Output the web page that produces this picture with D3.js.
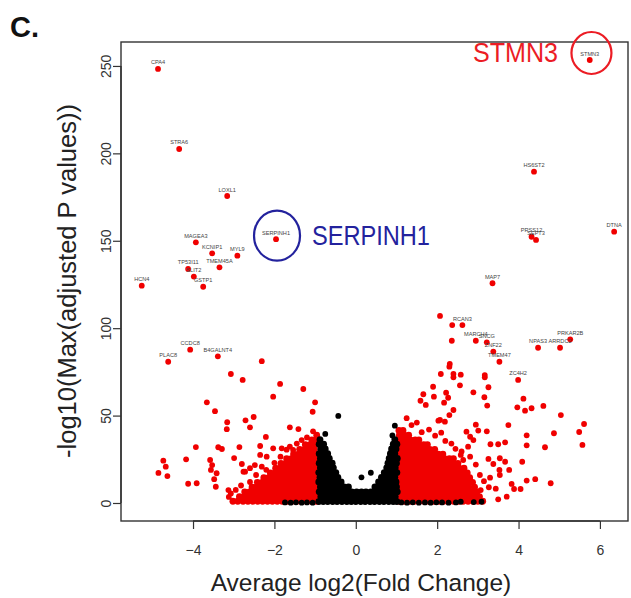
<!DOCTYPE html>
<html><head><meta charset="utf-8">
<script src="https://cdn.jsdelivr.net/npm/d3@7"></script>
<style>body{margin:0;background:#fff}svg text{font-family:"Liberation Sans",Arial,sans-serif}</style>
</head><body><svg id="c" width="631" height="598"></svg>
<script>
// ---------- data ----------
const xTicks = [-4, -2, 0, 2, 4, 6];
const yTicks = [0, 50, 100, 150, 200, 250];

const geneNames = ["CPA4","STRA6","LOXL1","MAGEA3","KCNIP1","MYL9","TMEM45A","TP53I11","SLIT2","GSTP1","HCN4","SERPINH1","CCDC8","B4GALNT4","PLAC8",
  "STMN3","HS6ST2","PRSS12","SEPT3","DTNA","MAP7","RCAN3","MARCH4","SNCG","ZNF22","TMEM47","ZC4H2","NPAS3","ARRDC2","PRKAR2B"];
const geneX = [-4.86,-4.34,-3.16,-3.93,-3.53,-2.91,-3.35,-4.12,-3.98,-3.75,-5.26,-1.96,-4.07,-3.39,-4.61,
  5.75,4.38,4.32,4.43,6.35,3.36,2.62,2.95,3.22,3.38,3.53,3.99,4.48,5.02,5.27];
const geneY = [248.3,202.5,175.6,149.1,142.8,141.5,134.8,133.9,129.5,123.7,124.3,150.9,87.7,83.9,80.8,
  253.4,189.5,152.3,150.5,155.2,125.7,101.8,92.8,91.9,86.6,80.8,70.4,88.8,88.8,93.6];

const highlightGenes = ["STMN3", "SERPINH1"];

// dense clouds: [y, [x values]]
const blackRows = [
  [0.8, [-0.91,-0.8,-0.69,-0.57,-0.46,-0.34,-0.22,-0.11,0.0,0.12,0.23,0.35,0.46,0.58,0.69,0.81,0.92,1.01]],
  [3.6, [-0.86,-0.74,-0.63,-0.51,-0.4,-0.28,-0.17,-0.05,0.06,0.17,0.29,0.4,0.52,0.63,0.75,0.86,0.97]],
  [6.4, [-0.9,-0.79,-0.67,-0.56,-0.44,-0.33,-0.21,-0.1,0.02,0.14,0.25,0.37,0.48,0.6,0.71,0.83,0.94,1.02]],
  [9.2, [-0.87,-0.75,-0.64,-0.52,-0.41,-0.29,-0.18,0.47,0.57,0.68,0.79,0.9,1.0]],
  [12.0, [-0.91,-0.8,-0.68,-0.57,-0.45,-0.36,0.56,0.66,0.77,0.88,0.99]],
  [14.7, [-0.88,-0.77,-0.65,-0.54,-0.44,0.63,0.74,0.85,0.96]],
  [17.4, [-0.91,-0.8,-0.69,-0.58,-0.49,0.7,0.8,0.91,1.01]],
  [20.1, [-0.87,-0.76,-0.65,-0.55,0.76,0.87,0.97]],
  [22.8, [-0.9,-0.79,-0.68,-0.58,0.79,0.9,1.0]],
  [25.5, [-0.87,-0.76,-0.65,0.82,0.93,1.02]],
  [28.2, [-0.9,-0.79,-0.69,0.85,0.96]],
  [30.9, [-0.86,-0.75,0.88,0.99]],
  [33.6, [-0.9,-0.79,0.92,1.01]],
  [36.3, [-0.88,0.96]]
];
const leftRedRows = [
  [1.0, [-3.02,-2.9,-2.77,-2.65,-2.53,-2.41,-2.29,-2.17,-2.05,-1.93,-1.81,-1.69,-1.57,-1.45,-1.33,-1.21,-1.09,-0.97]],
  [3.7, [-2.86,-2.74,-2.62,-2.5,-2.38,-2.26,-2.14,-2.02,-1.9,-1.78,-1.66,-1.54,-1.42,-1.3,-1.18,-1.06,-0.96]],
  [6.4, [-2.73,-2.61,-2.49,-2.37,-2.25,-2.13,-2.01,-1.89,-1.77,-1.65,-1.53,-1.41,-1.29,-1.17,-1.05,-0.95]],
  [9.1, [-2.55,-2.45,-2.33,-2.21,-2.09,-1.97,-1.85,-1.73,-1.61,-1.49,-1.37,-1.25,-1.13,-1.01]],
  [11.8, [-2.42,-2.3,-2.18,-2.06,-1.94,-1.82,-1.7,-1.58,-1.46,-1.34,-1.22,-1.1,-0.98]],
  [14.5, [-2.26,-2.14,-2.02,-1.9,-1.78,-1.66,-1.54,-1.42,-1.3,-1.18,-1.06,-0.96]],
  [17.2, [-2.1,-1.98,-1.86,-1.74,-1.62,-1.5,-1.38,-1.26,-1.14,-1.02]],
  [19.9, [-1.97,-1.85,-1.73,-1.61,-1.49,-1.37,-1.25,-1.13,-1.0]],
  [22.6, [-1.84,-1.72,-1.6,-1.48,-1.36,-1.24,-1.12,-0.99]],
  [25.3, [-1.7,-1.58,-1.46,-1.34,-1.22,-1.1,-0.98]],
  [28.0, [-1.53,-1.41,-1.29,-1.17,-1.05,-0.96]],
  [30.7, [-1.38,-1.26,-1.14,-1.02]],
  [33.4, [-1.24,-1.12,-0.99]],
  [36.1, [-1.08,-0.97]],
  [38.8, [-0.96]]
];
const rightRedRows = [
  [1.0, [1.08,1.2,1.32,1.44,1.56,1.68,1.8,1.92,2.04,2.16,2.28,2.4,2.52,2.64,2.76,2.88,3.0,3.12]],
  [3.7, [1.12,1.24,1.36,1.48,1.6,1.72,1.84,1.96,2.08,2.2,2.32,2.44,2.56,2.68,2.8,2.92,3.04]],
  [6.4, [1.06,1.18,1.3,1.42,1.54,1.66,1.78,1.9,2.02,2.14,2.26,2.38,2.5,2.62,2.74,2.86,2.98]],
  [9.1, [1.1,1.22,1.34,1.46,1.58,1.7,1.82,1.94,2.06,2.18,2.3,2.42,2.54,2.66,2.78,2.92]],
  [11.8, [1.07,1.19,1.31,1.43,1.55,1.67,1.79,1.91,2.03,2.15,2.27,2.39,2.51,2.63,2.75,2.87]],
  [14.5, [1.11,1.23,1.35,1.47,1.59,1.71,1.83,1.95,2.07,2.19,2.31,2.43,2.55,2.67,2.8]],
  [17.2, [1.06,1.18,1.3,1.42,1.54,1.66,1.78,1.9,2.02,2.14,2.26,2.38,2.5,2.62,2.74]],
  [19.9, [1.1,1.22,1.34,1.46,1.58,1.7,1.82,1.94,2.06,2.18,2.3,2.42,2.54,2.66]],
  [22.6, [1.07,1.19,1.31,1.43,1.55,1.67,1.79,1.91,2.03,2.15,2.27,2.39,2.51]],
  [25.3, [1.1,1.22,1.34,1.46,1.58,1.7,1.82,1.94,2.06,2.18,2.3,2.4]],
  [28.0, [1.07,1.19,1.31,1.43,1.55,1.67,1.79,1.91,2.03,2.14]],
  [30.7, [1.1,1.22,1.34,1.46,1.58,1.7,1.82,1.94]],
  [33.4, [1.07,1.19,1.31,1.43,1.55,1.67,1.76]],
  [36.1, [1.1,1.22,1.34,1.46,1.55]],
  [38.8, [1.07,1.19,1.3]],
  [41.5, [1.06,1.16]]
];

// scattered significant genes [x, y]
const redScatter = [
  [-2.31,81.1],[-3.07,73.8],[-2.78,70.4],[-1.86,68.1],[-1.29,65.2],[-2.03,60.8],[-1.0,57.6],[-3.66,57.6],[-3.46,52.5],[-1.06,52.2],
  [-3.16,46.2],[-2.71,47.3],[-2.51,49.2],[-3.17,42.2],[-2.6,43.3],[-1.62,43.3],[-1.41,42.3],[-2.21,37.8],[-3.93,32],[-3.38,31.9],
  [-3.29,30.9],[-2.86,32],[-2.35,32.6],[-4.73,24.2],[-4.67,20.8],[-4.17,25],[-4.85,17.2],[-4.63,15.4],[-4.12,11],[-3.91,11.3],
  [-3.58,24.6],[-3.53,21.7],[-3.56,18.9],[-2.99,25.7],[-2.8,22.3],[-2.76,17.9],[-2.8,1.7],[-3.13,7.4],[-3.07,5.5],[-3.42,17],
  [-3.48,13.6],[-3.44,9.3],[-2.35,27.5],[-2.19,26.5],[-2.03,31.3],[-1.82,31.3],[-1.62,32.2],[-1.54,30.3],[-1.33,36],[-1.21,31.3],
  [-1.08,30.3],[-2.72,17.9],[-2.6,19.9],[-2.48,21.7],[-2.31,20.8],[-2.6,12],[-2.82,10],[-2.95,7.5],[-3.12,3.5],[-2.45,16],
  [-2.2,19],[-2.0,23],[-1.85,26.5],[-1.7,30.5],[-1.45,34],[-1.2,37.5],[-1.05,41],
  [2.07,107],[2.37,101.8],[2.36,92.8],[2.31,79.5],[2.3,78],[2.09,73.8],[2.4,73.8],[2.4,71.9],[2.58,73.4],[3.17,73.2],
  [3.17,71.9],[1.9,66.5],[2.56,67.3],[3.26,66.2],[1.66,62.2],[1.59,58.5],[1.72,56.1],[1.92,60.8],[2.22,63.1],[2.27,60.2],
  [2.17,57.4],[2.89,63.3],[3.16,60.5],[3.23,55.7],[4.12,59.7],[3.97,54.7],[4.16,52.8],[4.32,54.2],[4.61,55.5],[5.04,50.3],
  [5.61,45.2],[5.49,40.6],[5.57,33.2],[4.87,39.9],[4.65,31.9],[4.2,38.7],[4.2,33],[3.75,44.6],[2.95,44.8],[3.01,41.4],
  [3.22,41],[3.31,33.6],[3.5,33.6],[3.67,34.7],[4.09,23.6],[3.54,25.6],[3.67,23.6],[3.26,25.2],[3.38,22.3],[3.53,18.9],
  [3.77,18.9],[3.54,16],[4.2,12.8],[4.41,13.6],[4.79,11.3],[3.83,10.9],[3.89,8],[4.05,8],[3.27,9],[3.44,8.2],
  [3.07,7.4],[3.5,2.1],[3.71,3.6],[1.37,44.6],[2.4,53.2],[2.3,50.3],[2.07,47.5],[2.19,46.5],[2.03,47.1],[2.72,40.8],
  [2.81,37.9],[2.89,36],[2.76,32.2],[2.58,27.5],[2.64,24.6],[2.81,26.5],[1.5,46],[1.25,48.5],[1.8,42],[1.95,38.5],
  [2.2,35.5],[2.45,31],[2.6,29.5],[2.95,22],[3.05,16],[3.15,12.5],[3.3,14.5],[1.62,40.5],[2.35,34],[2.1,40.2]
];
// scattered non-significant genes [x, y]
const blackScatter = [
  [-0.43,49.8],[0.96,44.2],[0.9,38.6],[0.14,14.7],[0.37,17.3],[-0.75,39.5],
  [-1.74,0.3],[-1.6,0.2],[-1.47,0.4],[-1.33,0.2],[-1.2,0.3],[-1.06,0.2],[1.12,0.3],[1.26,0.2],[1.4,0.4],[1.55,0.2],
  [1.7,0.3],[1.84,0.2],[1.98,0.4],[2.12,0.3],[2.28,0.2],[2.46,0.3],[2.58,0.7],[2.9,0.5],[3.09,0.7]
];

// ---------- drawing ----------
const L = 121, R = 628, T = 42, B = 521;
const svg = d3.select("#c");
const x = d3.scaleLinear().domain([-5.77, 6.69]).range([L, R]);
const y = d3.scaleLinear().domain([-10.3, 263.7]).range([B, T]);
const RED = "#f00000", PR = 2.9, CLOUD_R = 3.4;

const rowsToPts = rows => rows.flatMap(([yy, xs]) => xs.map(xx => [xx, yy]));
const plot = svg.append("g");
function dots(pts, color, r) {
  plot.append("g").selectAll("circle").data(pts).join("circle")
    .attr("cx", d => x(d[0])).attr("cy", d => y(d[1])).attr("r", r).attr("fill", color);
}
dots(rowsToPts(leftRedRows), RED, CLOUD_R);
dots(rowsToPts(rightRedRows), RED, CLOUD_R);
dots(redScatter, RED, PR);
dots(rowsToPts(blackRows), "#000", CLOUD_R);
dots(blackScatter, "#000", PR);

const genes = geneNames.map((g, i) => ({g, x: geneX[i], y: geneY[i]}));
dots(genes.map(d => [d.x, d.y]), RED, PR);
plot.append("g").selectAll("text").data(genes).join("text")
  .attr("x", d => x(d.x)).attr("y", d => y(d.y) - 4.5)
  .attr("text-anchor", "middle").attr("font-size", 5.6).attr("fill", "#444")
  .text(d => d.g);

// box
svg.append("rect").attr("x", L).attr("y", T).attr("width", R - L).attr("height", B - T)
  .attr("fill", "none").attr("stroke", "#333").attr("stroke-width", 1.4);

// axes
const gx = svg.append("g").attr("transform", `translate(0,${B})`)
  .call(d3.axisBottom(x).tickValues(xTicks).tickSize(8).tickPadding(16).tickSizeOuter(0));
gx.select(".domain").attr("d", `M${x(xTicks[0])},0H${x(xTicks[xTicks.length-1])}`).attr("stroke", "#333").attr("stroke-width", 1.4);
gx.selectAll(".tick line").attr("stroke", "#333").attr("stroke-width", 1.2);
gx.selectAll(".tick text").attr("font-size", 14).attr("fill", "#333").attr("font-family", "Liberation Sans, Arial, sans-serif");

const gy = svg.append("g").attr("transform", `translate(${L},0)`)
  .call(d3.axisLeft(y).tickValues(yTicks).tickSize(8).tickSizeOuter(0));
gy.select(".domain").attr("d", `M0,${y(yTicks[0])}V${y(yTicks[yTicks.length-1])}`).attr("stroke", "#333").attr("stroke-width", 1.4);
gy.selectAll(".tick line").attr("stroke", "#333").attr("stroke-width", 1.2);
gy.selectAll(".tick text").attr("font-size", 14).attr("fill", "#333").attr("font-family", "Liberation Sans, Arial, sans-serif")
  .attr("transform", "rotate(-90)").attr("x", 0).attr("y", -10).attr("dy", 0).attr("text-anchor", "middle");

// titles
svg.append("text").attr("x", 361).attr("y", 591).attr("text-anchor", "middle")
  .attr("font-size", 24.5).attr("fill", "#222").text("Average log2(Fold Change)");
svg.append("text").attr("transform", "translate(76,281) rotate(-90)").attr("text-anchor", "middle")
  .attr("font-size", 25.5).attr("fill", "#222").text("-log10(Max(adjusted P values))");
svg.append("text").attr("x", 10).attr("y", 37).attr("font-size", 29).attr("font-weight", "bold")
  .attr("fill", "#111").text("C.");

// highlight annotations
const hl = {
  STMN3:    {color: "#ec1c24", rx: 20, ry: 21, dx: 1.7, dy: -7, tx: 473, ty: 62, tw: 85},
  SERPINH1: {color: "#23229d", rx: 23, ry: 25, dx: 1, dy: -3.5, tx: 312, ty: 245, tw: 118}
};
highlightGenes.forEach(name => {
  const d = genes.find(g => g.g === name), s = hl[name];
  svg.append("ellipse").attr("cx", x(d.x) + s.dx).attr("cy", y(d.y) + s.dy)
    .attr("rx", s.rx).attr("ry", s.ry).attr("fill", "none").attr("stroke", s.color).attr("stroke-width", 2.2);
  svg.append("text").attr("x", s.tx).attr("y", s.ty).attr("font-size", 27)
    .attr("font-family", "Open Sans, Liberation Sans, sans-serif")
    .attr("textLength", s.tw).attr("lengthAdjust", "spacingAndGlyphs")
    .attr("fill", s.color).text(name);
});
</script></body></html>
